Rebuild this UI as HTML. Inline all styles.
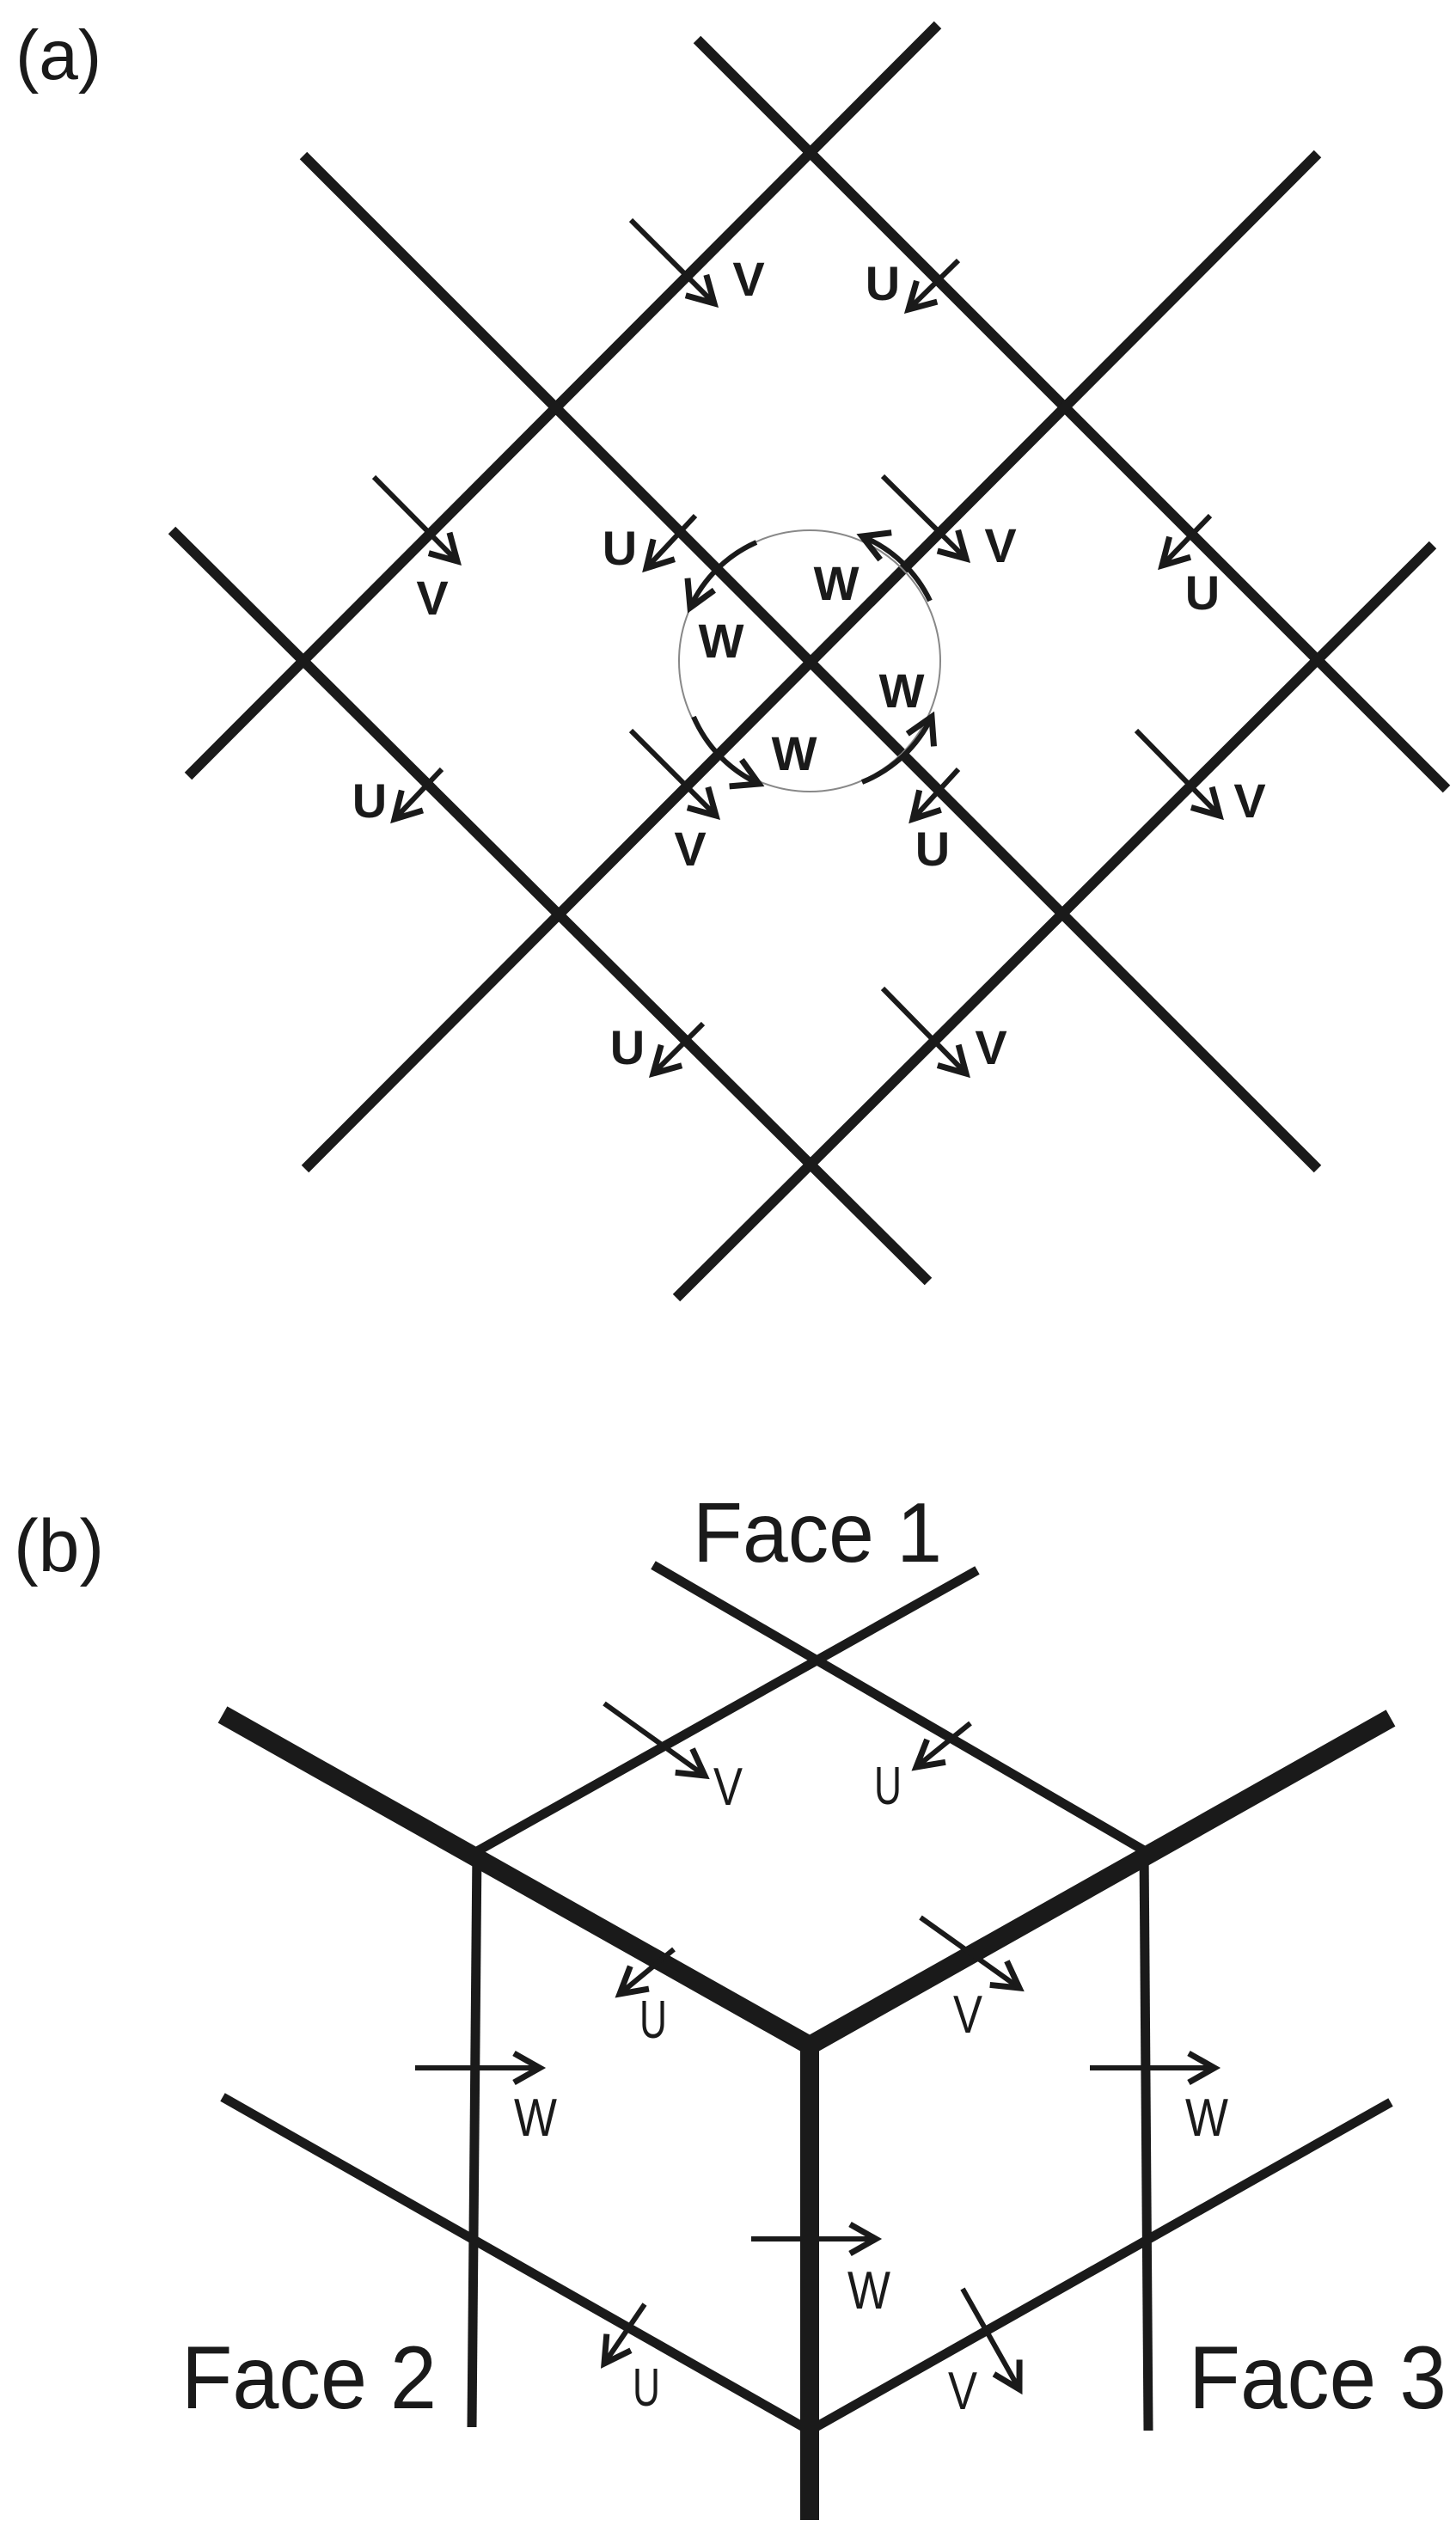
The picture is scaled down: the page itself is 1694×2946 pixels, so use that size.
<!DOCTYPE html>
<html><head><meta charset="utf-8"><style>
html,body{margin:0;padding:0;background:#fff;}
svg{display:block;}
text{font-family:"Liberation Sans",sans-serif;fill:#1a1a1a;}
</style></head><body>
<svg width="1694" height="2946" viewBox="0 0 1694 2946" xmlns="http://www.w3.org/2000/svg">
<defs>
<marker id="h" markerUnits="userSpaceOnUse" markerWidth="50" markerHeight="50" viewBox="-35 -25 50 50" refX="0" refY="0" orient="auto">
<path d="M-30,-17 L0,0 L-30,17" fill="none" stroke="#1a1a1a" stroke-width="7"/>
</marker>
</defs>
<rect width="1694" height="2946" fill="#fff"/>
<text x="18" y="92" font-size="82">(a)</text>
<g stroke="#1a1a1a" stroke-width="12" stroke-linecap="butt">
<line x1="811" y1="46" x2="1683" y2="918"/>
<line x1="1091" y1="29" x2="219" y2="903"/>
<line x1="1533" y1="179" x2="355" y2="1360"/>
<line x1="353" y1="181" x2="1533" y2="1360"/>
<line x1="1667" y1="634" x2="787" y2="1510"/>
<line x1="200" y1="617" x2="1080" y2="1491"/>
</g>
<circle cx="942" cy="769" r="152" fill="none" stroke="#888" stroke-width="2"/>
<g stroke="#1a1a1a" stroke-width="6" fill="none" marker-end="url(#h)">
<line x1="734" y1="256" x2="831" y2="353"/>
<line x1="1115" y1="303" x2="1057" y2="360"/>
<line x1="435" y1="555" x2="532" y2="653"/>
<line x1="809" y1="600" x2="752" y2="661"/>
<line x1="1027" y1="554" x2="1124" y2="650"/>
<line x1="1408" y1="600" x2="1352" y2="658"/>
<line x1="514" y1="895" x2="459" y2="953"/>
<line x1="734" y1="850" x2="833" y2="949"/>
<line x1="1115" y1="895" x2="1062" y2="953"/>
<line x1="1322" y1="850" x2="1419" y2="949"/>
<line x1="818" y1="1191" x2="760" y2="1249"/>
<line x1="1027" y1="1150" x2="1124" y2="1249"/>
<path d="M880,631 A152,152 0 0 0 803,707"/>
<path d="M1082,699 A152,152 0 0 0 1003,624"/>
<path d="M807,834 A152,152 0 0 0 883,912"/>
<path d="M1003,910 A152,152 0 0 0 1084,834"/>
</g>
<g font-size="56" font-weight="bold" text-anchor="middle">
<text x="871" y="344">V</text>
<text x="1027" y="349">U</text>
<text x="503" y="715">V</text>
<text x="721" y="657">U</text>
<text x="1164" y="654">V</text>
<text x="1399" y="709">U</text>
<text x="430" y="951">U</text>
<text x="803" y="1007">V</text>
<text x="1085" y="1007">U</text>
<text x="1454" y="951">V</text>
<text x="730" y="1238">U</text>
<text x="1153" y="1238">V</text>
<text x="973" y="698">W</text>
<text x="839" y="765">W</text>
<text x="1049" y="823">W</text>
<text x="924" y="896">W</text>
</g>

<text x="16" y="1828" font-size="86">(b)</text>
<text x="806" y="1817" font-size="98" textLength="290" lengthAdjust="spacingAndGlyphs">Face 1</text>
<text x="211" y="2802" font-size="104" textLength="297" lengthAdjust="spacingAndGlyphs">Face 2</text>
<text x="1383" y="2802" font-size="104" textLength="300" lengthAdjust="spacingAndGlyphs">Face 3</text>
<g stroke="#1a1a1a" stroke-width="11">
<line x1="760" y1="1821" x2="1331" y2="2153"/>
<line x1="1137" y1="1827" x2="555" y2="2154"/>
<line x1="555" y1="2150" x2="549" y2="2824"/>
<line x1="1331" y1="2150" x2="1336" y2="2828"/>
<line x1="259" y1="2440" x2="942" y2="2828"/>
<line x1="1618" y1="2446" x2="942" y2="2828"/>
</g>
<g stroke="#1a1a1a" stroke-width="22" fill="none">
<polyline points="259,1995 942,2380 1618,1999"/>
<line x1="942" y1="2375" x2="942" y2="2932"/>
</g>
<g stroke="#1a1a1a" stroke-width="6" fill="none" marker-end="url(#h)">
<line x1="703" y1="1982" x2="820" y2="2066"/>
<line x1="1129" y1="2005" x2="1066" y2="2056"/>
<line x1="784" y1="2268" x2="721" y2="2320"/>
<line x1="1071" y1="2231" x2="1186" y2="2313"/>
<line x1="483" y1="2406" x2="628" y2="2406"/>
<line x1="1268" y1="2406" x2="1413" y2="2406"/>
<line x1="874" y1="2605" x2="1019" y2="2605"/>
<line x1="750" y1="2681" x2="703" y2="2750"/>
<line x1="1120" y1="2663" x2="1186" y2="2780"/>
</g>
<g font-size="62" text-anchor="middle">
<text x="847" y="2100" textLength="34" lengthAdjust="spacingAndGlyphs">V</text>
<text x="1033" y="2099" textLength="32" lengthAdjust="spacingAndGlyphs">U</text>
<text x="760" y="2371" textLength="32" lengthAdjust="spacingAndGlyphs">U</text>
<text x="1126" y="2365" textLength="34" lengthAdjust="spacingAndGlyphs">V</text>
<text x="623" y="2485" textLength="50" lengthAdjust="spacingAndGlyphs">W</text>
<text x="1404" y="2485" textLength="50" lengthAdjust="spacingAndGlyphs">W</text>
<text x="1011" y="2686" textLength="50" lengthAdjust="spacingAndGlyphs">W</text>
<text x="752" y="2799" textLength="32" lengthAdjust="spacingAndGlyphs">U</text>
<text x="1120" y="2803" textLength="34" lengthAdjust="spacingAndGlyphs">V</text>
</g>
</svg>
</body></html>
